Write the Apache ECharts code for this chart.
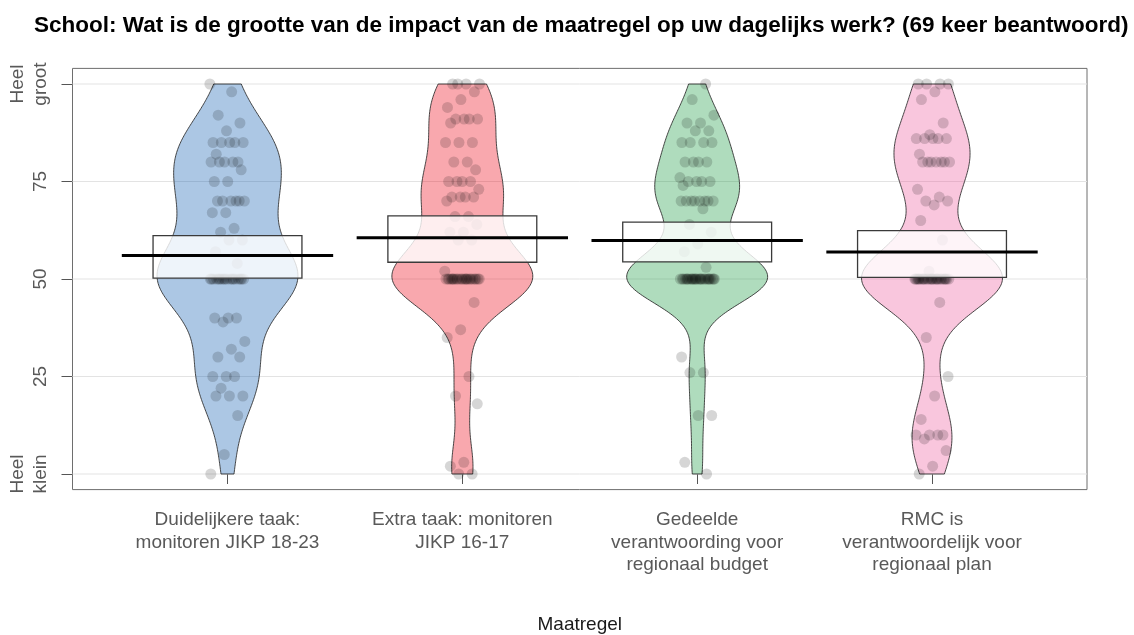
<!DOCTYPE html>
<html>
<head>
<meta charset="utf-8">
<script src="https://cdn.jsdelivr.net/npm/echarts@6/dist/echarts.min.js"></script>
<style>
  html, body { margin: 0; padding: 0; background: #ffffff; }
  #chart { width: 1134px; height: 635px; }
</style>
</head>
<body>
<div id="chart"></div>
<script>
// ---- chart text ----
const chartTitle = 'School: Wat is de grootte van de impact van de maatregel op uw dagelijks werk? (69 keer beantwoord)';
const xAxisTitle = 'Maatregel';
const categories = [
  'Duidelijkere taak:\nmonitoren JIKP 18-23',
  'Extra taak: monitoren\nJIKP 16-17',
  'Gedeelde\nverantwoording voor\nregionaal budget',
  'RMC is\nverantwoordelijk voor\nregionaal plan'
];
const yTicks = [0, 25, 50, 75, 100];
const yTickLabels = ['Heel\nklein', '25', '50', '75', 'Heel\ngroot'];

// ---- 69 responses per measure (0 = heel klein, 100 = heel groot) ----
const bean1 = [100, 98, 92, 90, 88, 85, 85, 85, 85, 85, 82, 80, 80, 80, 80, 80, 78, 75, 75,
  70, 70, 70, 70, 70, 70, 67, 67, 63, 62, 60, 60, 57, 54,
  50, 50, 50, 50, 50, 50, 50, 50, 50, 50, 50, 50, 50, 50, 50, 50, 50, 50,
  40, 40, 40, 39, 34, 32, 30, 30, 25, 25, 25, 22, 20, 20, 20, 15, 5, 0];
const bean2 = [100, 100, 100, 100, 98, 96, 94, 91, 91, 91, 91, 90, 85, 85, 85, 80, 80, 78,
  75, 75, 75, 75, 73, 71, 71, 71, 71, 70, 66, 66, 64, 62, 62, 60, 60, 52,
  50, 50, 50, 50, 50, 50, 50, 50, 50, 50, 50, 50, 50, 50, 50, 50, 50, 50, 50, 50, 50, 50, 50,
  44, 37, 35, 25, 20, 18, 3, 2, 0, 0];
const bean3 = [100, 96, 92, 90, 90, 88, 88, 85, 85, 85, 85, 80, 80, 80, 80, 76, 75, 75, 75, 75, 74,
  70, 70, 70, 70, 70, 70, 70, 70, 68, 64, 62, 59, 57, 53,
  50, 50, 50, 50, 50, 50, 50, 50, 50, 50, 50, 50, 50, 50, 50, 50, 50, 50, 50, 50, 50, 50, 50, 50, 50, 50, 50,
  30, 26, 26, 15, 15, 3, 0];
const bean4 = [100, 100, 100, 100, 98, 96, 90, 87, 86, 86, 86, 86, 86, 82, 80, 80, 80, 80, 80, 80, 80,
  73, 71, 70, 70, 69, 65, 60, 52,
  50, 50, 50, 50, 50, 50, 50, 50, 50, 50, 50, 50, 50, 50, 50, 50, 50, 50, 50, 50, 50, 50, 50, 50, 50, 50, 50,
  44, 35, 25, 20, 14, 10, 10, 10, 10, 9, 6, 2, 0];

// ---- summary per measure: mean and inference band ----
const avgLine = [56.0, 60.6, 59.9, 56.9];
const infLow  = [50.2, 54.3, 54.4, 50.4];
const infHigh = [61.1, 66.2, 64.6, 62.4];

const beans = [bean1, bean2, bean3, bean4];
const beanColors = ['12,91,176', '238,0,17', '21,152,61', '236,87,154'];

// ---- layout constants ----
const X_MIN = 0.34, X_MAX = 4.66;
const BEAN_HALF = 0.30;   // widest point of each bean
const INF_HALF = 0.317;   // half width of the inference band
const AVG_HALF = 0.45;    // half width of the mean line
const JITTER = 0.075;
const BW_ADJUST = 0.9;    // kernel bandwidth multiplier

// kernel density estimate with Silverman's rule of thumb (R's bw.nrd0)
function quantile(sorted, p) {
  const h = (sorted.length - 1) * p;
  const lo = Math.floor(h);
  const hi = Math.min(lo + 1, sorted.length - 1);
  return sorted[lo] + (h - lo) * (sorted[hi] - sorted[lo]);
}
function beanOutline(vals) {
  const s = vals.slice().sort((a, b) => a - b);
  const n = s.length;
  const mean = s.reduce((a, b) => a + b, 0) / n;
  const sd = Math.sqrt(s.reduce((a, b) => a + (b - mean) * (b - mean), 0) / (n - 1));
  const iqr = quantile(s, 0.75) - quantile(s, 0.25);
  let lo = Math.min(sd, iqr / 1.34);
  if (!(lo > 0)) lo = sd || 1;
  const bw = BW_ADJUST * 0.9 * lo * Math.pow(n, -0.2);
  const ymin = s[0], ymax = s[n - 1];
  const steps = 256;
  const out = [];
  let dmax = 0;
  for (let k = 0; k <= steps; k++) {
    const y = ymin + (ymax - ymin) * k / steps;
    let d = 0;
    for (let i = 0; i < n; i++) {
      const z = (y - s[i]) / bw;
      d += Math.exp(-0.5 * z * z);
    }
    out.push([y, d]);
    if (d > dmax) dmax = d;
  }
  return out.map(p => [p[0], p[1] / dmax * BEAN_HALF]);
}
const outlines = beans.map(beanOutline);

// spread points sideways so overlapping answers stay visible
const points = [];
beans.forEach((vals, b) => {
  vals.forEach((v, i) => {
    const u = ((i * 0.6180339887 + 0.37 * b) % 1) - 0.5;
    points.push([b + 1 + u * 2 * JITTER, v]);
  });
});

const FONT = "'Liberation Sans', Arial, Helvetica, sans-serif";
const chart = echarts.init(document.getElementById('chart'), null, { renderer: 'canvas' });

chart.setOption({
  animation: false,
  backgroundColor: '#ffffff',
  title: {
    text: chartTitle,
    left: 29,
    top: 9,
    textStyle: { fontFamily: FONT, fontSize: 22.5, fontWeight: 'bold', color: '#000000' }
  },
  grid: {
    left: 72.5, right: 47, top: 68.4, bottom: 145.4,
    outerBoundsMode: 'none',
    containLabel: false,
    show: true, borderColor: '#6e6e6e', borderWidth: 1, backgroundColor: 'transparent'
  },
  xAxis: {
    type: 'value',
    min: X_MIN, max: X_MAX,
    name: xAxisTitle,
    nameLocation: 'middle',
    nameGap: 126,
    nameTextStyle: { fontFamily: FONT, fontSize: 19, color: '#1a1a1a' },
    axisLine: { show: false },
    splitLine: { show: false },
    axisTick: { show: true, length: 10, customValues: [1, 2, 3, 4], lineStyle: { color: '#555555' } },
    axisLabel: {
      customValues: [1, 2, 3, 4],
      formatter: v => categories[Math.round(v) - 1] || '',
      fontFamily: FONT, fontSize: 19, lineHeight: 22.5, color: '#595959', margin: 19, align: 'center'
    }
  },
  yAxis: {
    type: 'value',
    min: -4, max: 104,
    axisLine: { show: false },
    splitLine: { show: false },
    axisTick: { show: true, length: 11, customValues: yTicks, lineStyle: { color: '#555555' } },
    axisLabel: {
      customValues: yTicks,
      formatter: v => yTickLabels[yTicks.indexOf(Math.round(v))] || '',
      rotate: 90,
      fontFamily: FONT, fontSize: 19, lineHeight: 23, color: '#595959', margin: 20
    }
  },
  series: [
    {
      // horizontal reference lines
      type: 'custom',
      z: 1,
      silent: true,
      data: yTicks.map(v => [v]),
      renderItem: (params, api) => {
        const v = api.value(0);
        const a = api.coord([X_MIN, v]);
        const b = api.coord([X_MAX, v]);
        return { type: 'line', shape: { x1: a[0], y1: a[1], x2: b[0], y2: b[1] },
                 style: { stroke: '#e3e3e3', lineWidth: 1 } };
      }
    },
    {
      // beans
      type: 'custom',
      z: 2,
      silent: true,
      data: beans.map((_, i) => [i]),
      renderItem: (params, api) => {
        const b = api.value(0);
        const cx = b + 1;
        const ol = outlines[b];
        const pts = [];
        ol.forEach(p => pts.push(api.coord([cx - p[1], p[0]])));
        for (let k = ol.length - 1; k >= 0; k--) pts.push(api.coord([cx + ol[k][1], ol[k][0]]));
        return { type: 'polygon', shape: { points: pts },
                 style: { fill: 'rgba(' + beanColors[b] + ',0.34)', stroke: 'rgba(40,40,40,0.85)', lineWidth: 1 } };
      }
    },
    {
      type: 'scatter',
      z: 3,
      silent: true,
      symbol: 'circle',
      symbolSize: 11,
      itemStyle: { color: 'rgba(0,0,0,0.2)', borderWidth: 0 },
      data: points
    },
    {
      // inference band
      type: 'custom',
      z: 4,
      silent: true,
      data: beans.map((_, i) => [i]),
      renderItem: (params, api) => {
        const b = api.value(0);
        const p1 = api.coord([b + 1 - INF_HALF, infHigh[b]]);
        const p2 = api.coord([b + 1 + INF_HALF, infLow[b]]);
        return { type: 'rect', shape: { x: p1[0], y: p1[1], width: p2[0] - p1[0], height: p2[1] - p1[1] },
                 style: { fill: 'rgba(255,255,255,0.8)', stroke: '#3a3a3a', lineWidth: 1.3 } };
      }
    },
    {
      // mean line
      type: 'custom',
      z: 5,
      silent: true,
      data: beans.map((_, i) => [i]),
      renderItem: (params, api) => {
        const b = api.value(0);
        const a = api.coord([b + 1 - AVG_HALF, avgLine[b]]);
        const c = api.coord([b + 1 + AVG_HALF, avgLine[b]]);
        return { type: 'line', shape: { x1: a[0], y1: a[1], x2: c[0], y2: c[1] },
                 style: { stroke: '#000000', lineWidth: 3 } };
      }
    }
  ]
});
</script>
</body>
</html>
